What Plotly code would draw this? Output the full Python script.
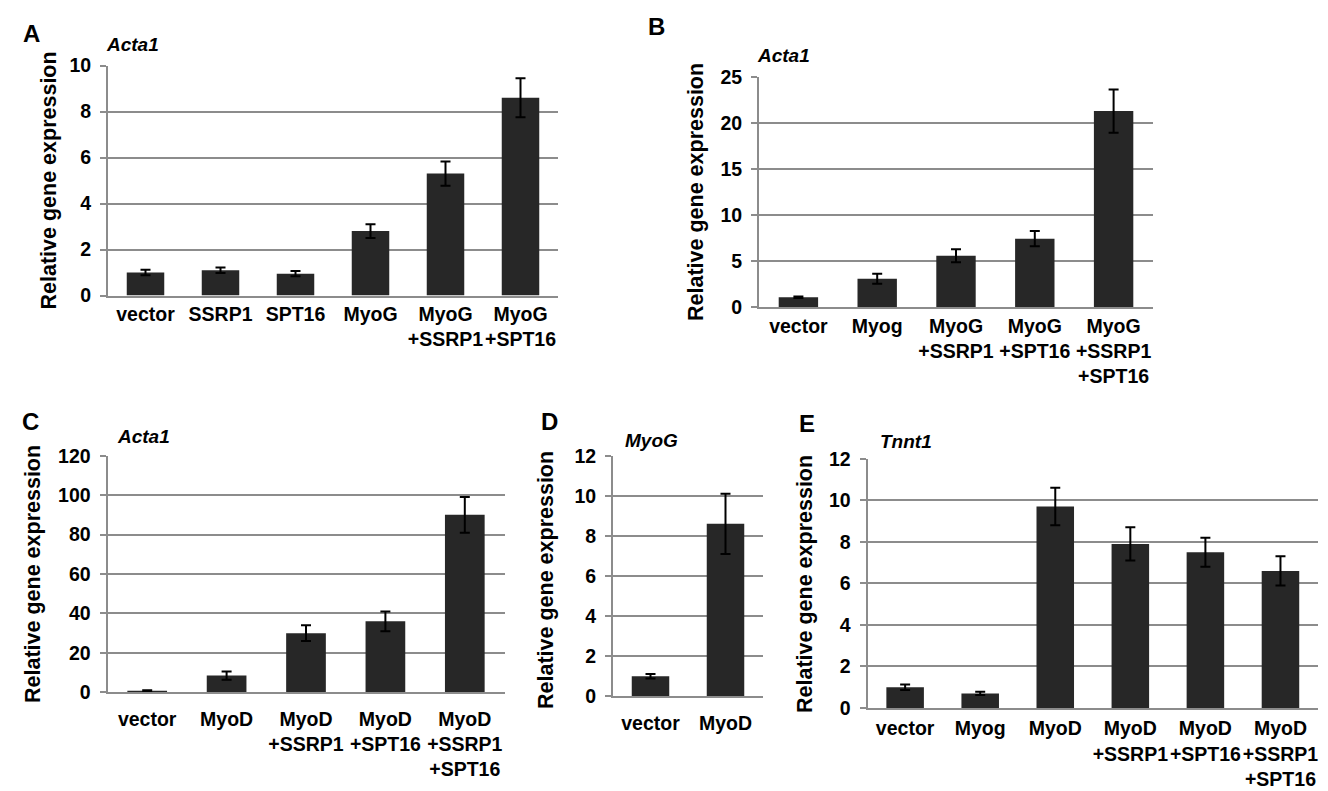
import plotly.graph_objects as go

# ---------------- data ----------------
cats_a = ["vector", "SSRP1", "SPT16", "MyoG", "MyoG<br>+SSRP1", "MyoG<br>+SPT16"]
vals_a = [1.0, 1.1, 0.95, 2.8, 5.3, 8.6]
err_a = [0.12, 0.12, 0.11, 0.3, 0.53, 0.85]

cats_b = ["vector", "Myog", "MyoG<br>+SSRP1", "MyoG<br>+SPT16", "MyoG<br>+SSRP1<br>+SPT16"]
vals_b = [1.08, 3.1, 5.6, 7.45, 21.3]
err_b = [0.08, 0.55, 0.7, 0.83, 2.35]

cats_c = ["vector", "MyoD", "MyoD<br>+SSRP1", "MyoD<br>+SPT16", "MyoD<br>+SSRP1<br>+SPT16"]
vals_c = [0.8, 8.5, 30, 36, 90]
err_c = [0.3, 2.1, 4.0, 5.0, 9.1]

cats_d = ["vector", "MyoD"]
vals_d = [1.0, 8.6]
err_d = [0.11, 1.5]

cats_e = ["vector", "Myog", "MyoD", "MyoD<br>+SSRP1", "MyoD<br>+SPT16", "MyoD<br>+SSRP1<br>+SPT16"]
vals_e = [1.0, 0.7, 9.7, 7.9, 7.5, 6.6]
err_e = [0.13, 0.08, 0.9, 0.8, 0.7, 0.7]

letters = ["A", "B", "C", "D", "E"]
genes = ["Acta1", "Acta1", "Acta1", "MyoG", "Tnnt1"]
y_ranges = [(0, 10), (0, 25), (0, 120), (0, 12), (0, 12)]
y_dticks = [2, 5, 20, 2, 2]
y_title = "Relative gene expression"

# ---------------- layout geometry (pixels) ----------------
W, H = 1328, 791
# plot areas: x0, x1, ytop, ybottom
boxes = [
    (100, 550, 57.5, 287.5),
    (751, 1145, 69, 299.3),
    (99.5, 496.5, 447.7, 684.3),
    (605, 755, 447.7, 688.3),
    (859.6, 1310, 450.7, 700),
]
label_standoff = [0, 0, 8, 8, 2]
letter_pos = [(23, 26), (648, 18), (22, 413), (541, 413), (799, 416)]
gene_pos = [(96, 37), (747, 47), (107, 428), (615, 432), (870, 433)]
ytitle_pos = [(41, 172.5), (688, 184), (25, 566), (538, 572), (797, 576)]

FONT = "Liberation Sans, Arial, sans-serif"
GRID = "#8c8c8c"
BAR = "#272727"

def px(x):
    return x / W

def py(y):
    return 1 - y / H

series = [
    (cats_a, vals_a, err_a),
    (cats_b, vals_b, err_b),
    (cats_c, vals_c, err_c),
    (cats_d, vals_d, err_d),
    (cats_e, vals_e, err_e),
]

fig = go.Figure()
layout = dict(
    width=W, height=H,
    margin=dict(l=0, r=0, t=0, b=0),
    paper_bgcolor="white", plot_bgcolor="white",
    showlegend=False,
    font=dict(family=FONT, color="black"),
    annotations=[],
)

for i, (cats, vals, errs) in enumerate(series):
    n = "" if i == 0 else str(i + 1)
    fig.add_trace(go.Bar(
        x=cats, y=vals,
        xaxis="x" + n, yaxis="y" + n,
        marker=dict(color=BAR, line=dict(width=0)),
        width=0.5,
        error_y=dict(type="data", array=errs, color="black", thickness=2, width=5),
    ))
    x0, x1, yt, yb = boxes[i]
    layout["xaxis" + n] = dict(
        domain=[px(x0), px(x1)], anchor="y" + n,
        type="category", showgrid=False, zeroline=False,
        showline=True, linecolor=GRID, linewidth=2,
        ticks="", ticklabelstandoff=label_standoff[i], tickangle=0,
        automargin=False,
        tickfont=dict(family=FONT, size=19.5, color="black", weight="bold"),
        fixedrange=True,
    )
    layout["yaxis" + n] = dict(
        domain=[py(yb), py(yt)], anchor="x" + n,
        range=list(y_ranges[i]), dtick=y_dticks[i], tick0=0,
        showgrid=True, gridcolor=GRID, gridwidth=2,
        zeroline=False, showline=True, linecolor=GRID, linewidth=2,
        ticks="outside", ticklen=6, tickwidth=2, tickcolor=GRID,
        ticklabelstandoff=5, automargin=False,
        tickfont=dict(family=FONT, size=19.5, color="black", weight="bold"),
        fixedrange=True,
    )
    lx, ly = letter_pos[i]
    layout["annotations"].append(dict(
        text=letters[i], x=px(lx), y=py(ly), xref="paper", yref="paper",
        xanchor="center", yanchor="middle", showarrow=False,
        font=dict(family=FONT, size=24, color="black", weight="bold"),
    ))
    gx, gy = gene_pos[i]
    layout["annotations"].append(dict(
        text=genes[i], x=px(gx), y=py(gy), xref="paper", yref="paper",
        xanchor="left", yanchor="middle", showarrow=False,
        font=dict(family=FONT, size=19, color="black", weight="bold", style="italic"),
    ))
    tx, ty = ytitle_pos[i]
    layout["annotations"].append(dict(
        text=y_title, x=px(tx), y=py(ty), xref="paper", yref="paper",
        xanchor="center", yanchor="middle", textangle=-90, showarrow=False,
        font=dict(family=FONT, size=21.5, color="black", weight="bold"),
    ))

fig.update_layout(**layout)
fig.write_html("out.html")
